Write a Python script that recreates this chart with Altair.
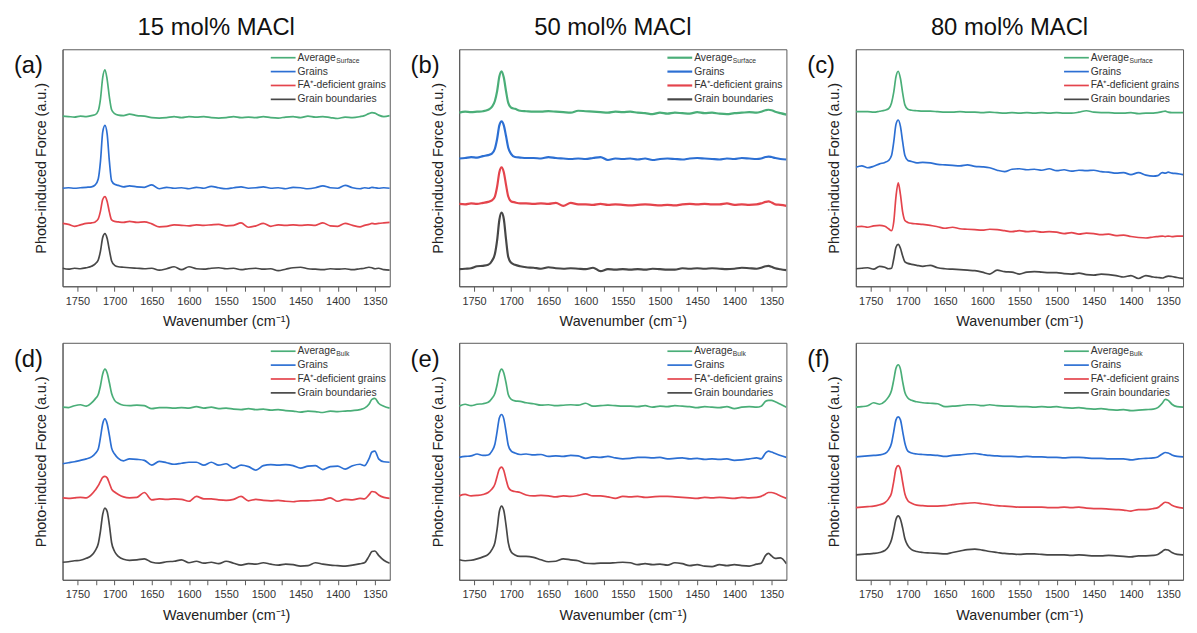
import altair as alt
import pandas as pd

# ---------------- data ----------------
WAVENUMBER = [1770, 1762, 1754, 1746, 1738, 1731,
              1726, 1722, 1719, 1716, 1713, 1710, 1707, 1704, 1700, 1695, 1688,
              1680, 1670, 1660, 1650, 1640, 1630, 1620, 1610, 1600, 1590, 1580, 1570,
              1560, 1550, 1540, 1530, 1520, 1510, 1500, 1490, 1480, 1470, 1460, 1450,
              1440, 1430, 1420, 1410, 1400, 1390, 1380, 1370,
              1364, 1358, 1354, 1350, 1345, 1338, 1330]

# (a) 15 mol% surface
A_AVG = [174.5, 174, 173.5, 174.5, 174, 175,
         176, 180, 192, 214, 222, 212, 194, 181, 177, 175.5, 175,
         176.5, 175, 174.5, 173, 172.5, 173, 174, 173, 174, 173.5, 174, 173, 172.5, 173, 174, 173,
         173.5, 173, 174, 173, 172.5, 173.5, 174, 173, 174.5, 173.5, 174, 173, 172, 173.5, 173, 174,
         175, 177, 178, 177.5, 175.5, 174, 175]
A_GRAINS = [100.5, 101, 100.5, 101, 101.5, 102,
            104, 110, 128, 158, 165, 156, 128, 108, 104.5, 103.5, 102,
            103, 102, 101.5, 104, 100, 101.5, 100.5, 101, 100, 101.5, 100.5, 102.5, 101, 100, 101, 102,
            100.5, 101, 102, 100.5, 101, 100, 101.5, 101, 100, 101, 103, 101, 100.5, 103.5, 101, 100,
            101, 100.5, 101.5, 101, 100.5, 101, 100.5]
A_FA = [64.5, 63.5, 61.5, 63, 64.5, 65,
        66, 69, 77, 89, 92, 87, 76, 68, 66.5, 66, 65.5,
        66.5, 65.5, 66, 64, 61, 61.5, 63, 62.5, 62, 63, 62.5, 63, 63.5, 62, 62.5, 65,
        60.5, 62, 64.5, 61.5, 63, 62.5, 63, 62.5, 63, 62.5, 65, 62, 61.5, 64.5, 62.5, 61,
        62.5, 63.5, 64.5, 64, 64.5, 65, 65.5]
A_GB = [18.5, 17.5, 18.5, 18, 19, 20.5,
        23, 27, 36, 50, 54, 49, 37, 26, 21.5, 20, 19.5,
        19, 18.5, 18, 18.5, 16.5, 18, 20, 17, 20, 18, 17.5, 18.5, 19, 18, 18.5, 17,
        18, 18.5, 17.5, 18, 16, 17.5, 19, 19.5, 18, 17.5, 17, 18, 17.5, 18, 17, 18,
        18.5, 19.5, 19, 18, 18.5, 17, 16.5]

# (b) 50 mol% surface
B_AVG = [178, 179, 178.5, 179, 179.5, 181,
         184, 190, 200, 215, 220.5, 214, 200, 188, 183, 182, 180,
         179.5, 179, 179, 179.5, 179, 178.5, 178, 180, 179.5, 179, 178.5, 178, 179, 178.5, 179, 178,
         177.5, 176.5, 178, 177, 178, 177.5, 177, 178.5, 177.5, 178, 177, 176.5, 177.5, 178, 178.5, 178,
         179, 180.5, 181, 180.5, 179, 177.5, 176]
B_GRAINS = [131, 131.5, 132.5, 132, 133.5, 134.5,
            136, 141, 151, 165, 169, 165, 154, 142, 135.5, 132.5, 132,
            131.5, 131.5, 131, 132.5, 131.5, 131, 130.5, 131, 130.5, 131.5, 132.5, 129.5, 131, 130.5, 131, 130,
            131, 129.5, 130.5, 131, 130.5, 130, 131, 131.5, 131, 130.5, 130, 131, 130.5, 131.5, 131, 130.5,
            131, 132.5, 133, 132.5, 131.5, 130.5, 130]
B_FA = [84.5, 84, 85, 84.5, 85.5, 86.5,
        88, 92, 102, 117, 122, 117, 104, 92, 87, 86, 85,
        85, 84.5, 85, 84.5, 85.5, 82.5, 85.5, 84, 84, 83.5, 84.5, 83.5, 84, 83.5, 83, 83.5,
        84, 83.5, 83, 83.5, 83, 84, 84.5, 84, 84.5, 84, 84, 85, 83.5, 84, 83.5, 84,
        85, 86.5, 87, 86, 84, 83.5, 82.5]
B_GB = [17.5, 18, 18.5, 20.5, 21, 22,
        26, 33, 47, 68, 75.5, 69, 48, 30, 24, 22, 20.5,
        19.5, 19, 18, 19.5, 18.5, 18, 18.5, 18, 17.5, 19, 15.5, 17.5, 17, 17.5, 17, 17.5,
        17, 18, 17.5, 17, 17, 18.5, 18, 18.5, 18, 18.5, 18, 17.5, 18, 19, 18.5, 18,
        19, 20.5, 21, 20, 18.5, 17.5, 16.5]

# (c) 80 mol% surface
C_AVG = [179, 179, 179, 178.5, 179.5, 180.5,
         182, 188, 199, 215, 220.5, 213, 198, 186, 181.5, 180.5, 180,
         179.5, 179.5, 179, 178.5, 178.5, 179, 178.5, 178.5, 178, 178.5, 178, 177.5, 178, 177.5, 178, 177.5,
         178, 177.5, 178, 177.5, 177.5, 178.5, 180, 178.5, 178, 178, 177.5, 177.5, 178, 177, 177.5, 177.5,
         178, 179, 179.5, 178.5, 178, 178, 178]
C_GRAINS = [122, 123.5, 121.5, 123, 125.5, 127,
            129, 134, 148, 166, 170.5, 164, 148, 134, 129, 128, 126.5,
            127, 126.5, 125, 124.5, 124, 123.5, 124.5, 123, 122.5, 121.5, 119, 117.5, 120, 120.5, 119.5, 120,
            119, 120.5, 118.5, 119.5, 118, 119, 118.5, 119, 117.5, 117, 116, 116.5, 114.5, 116.5, 114, 113,
            113.5, 116.5, 116, 117, 116, 115.5, 114.5]
C_FA = [61, 61.5, 60.5, 62, 62.5, 61.5,
        59, 57, 66, 92, 106, 94, 76, 67.5, 65.5, 64.5, 64,
        63.5, 62.5, 61, 59.5, 60.5, 59, 58.5, 58, 57.5, 58.5, 58, 57, 56, 57, 56, 56.5,
        55.5, 56, 55.5, 54, 55, 53.5, 54.5, 54, 53, 53.5, 52, 52.5, 51, 50, 49.5, 50.5,
        51, 51.5, 51, 51.5, 51, 51.5, 51.5]
C_GB = [18, 18.5, 19, 17.5, 20.5, 19.5,
        18, 18.5, 28, 40, 43, 39, 31, 25, 23.5, 22.5, 21.5,
        20.5, 21.5, 19, 18, 17.5, 17, 16.5, 16, 14.5, 12.5, 16.5, 15, 14.5, 12.5, 14.5, 15,
        14.5, 14, 14, 13, 12.5, 13.5, 12, 11.5, 12.5, 12, 11, 9.5, 11, 8, 11, 9.5,
        9, 8.5, 9.5, 10.5, 10, 9, 8]

# (d) 15 mol% bulk
D_AVG = [177, 176.5, 178.5, 179.5, 178, 181.5,
         185.5, 190, 199, 211, 216, 212, 202, 191, 184, 181, 179,
         178.5, 179, 178.5, 175.5, 176.5, 176.5, 176, 176.5, 176, 177.5, 176, 177, 175.5, 176, 175, 174.5,
         175.5, 174.5, 175, 174, 174.5, 173.5, 173, 172, 173, 172.5, 171.5, 173, 172.5, 173, 173.5, 174.5,
         176, 180, 185, 186, 181, 178, 176]
D_GRAINS = [119, 120, 121, 122.5, 124, 126,
            129.5, 134, 146, 160, 165, 160, 148, 135, 129, 124.5, 122,
            124, 123.5, 122.5, 117.5, 121.5, 120, 118.5, 119.5, 120.5, 120.5, 117.5, 120.5, 117.5, 119, 114.5, 117.5,
            116, 112.5, 117, 118, 117.5, 118, 117, 114.5, 116.5, 117, 113, 116, 116.5, 113.5, 117, 118.5,
            117, 124, 131, 132, 124, 121, 120.5]
D_FA = [84, 83.5, 84, 84.5, 84, 87.5,
        92, 96.5, 101, 105, 106, 104.5, 99, 93, 90, 87.5, 85,
        84, 84.5, 89.5, 82, 83, 82.5, 83, 82.5, 80.5, 85.5, 83, 83, 82, 81.5, 82.5, 85.5,
        81, 82.5, 81.5, 81, 81.5, 80.5, 80, 81, 81, 81.5, 82, 84, 80.5, 82.5, 82, 83.5,
        83, 87, 90.5, 90, 87, 84.5, 83.5]
D_GB = [18, 18.5, 19.5, 20, 22, 25,
        30, 37, 50, 67, 73.5, 70, 56, 38, 29, 24, 21,
        20, 20.5, 21.5, 18, 17, 18.5, 19, 20.5, 17.5, 19, 17, 18, 16.5, 19, 17, 15,
        16.5, 16, 17.5, 16, 15, 16, 15.5, 14, 14.5, 17.5, 16, 15, 14.5, 14, 15, 16.5,
        17.5, 24, 29, 29.5, 25, 20, 17]

# (e) 50 mol% bulk
E_AVG = [178, 180, 178.5, 180, 180.5, 182,
         186, 191, 200, 211.5, 216, 212, 202, 190, 185, 183.5, 183,
         181.5, 180.5, 179, 179.5, 178.5, 179, 179.5, 179, 181, 178, 178.5, 179, 178.5, 178, 178, 177.5,
         178.5, 177, 178, 177.5, 178.5, 178, 177.5, 176.5, 177.5, 177, 176.5, 177.5, 175.5, 177, 177.5, 177,
         178, 183, 184, 184, 182.5, 180, 177]
E_GRAINS = [125.5, 126.5, 127, 129, 127.5, 128,
            132, 139, 152, 166, 169.5, 165, 152, 138, 132, 130, 128.5,
            129, 128, 128.5, 126.5, 127, 126.5, 127.5, 127, 124.5, 126, 125.5, 126.5, 125, 124, 124.5, 125.5,
            125.5, 125, 125.5, 124, 124.5, 125, 124, 124.5, 123.5, 124, 123.5, 124, 122.5, 123, 124, 125,
            124, 130, 132, 131, 129.5, 127.5, 125.5]
E_FA = [86, 87.5, 86, 86.5, 87.5, 89.5,
        93, 98, 106, 113.5, 115.5, 112, 103, 95, 91.5, 90.5, 89.5,
        87, 86, 86.5, 86, 85, 86, 85.5, 86.5, 88, 86, 86, 85, 83.5, 85.5, 85, 85.5,
        84.5, 85, 85.5, 85.5, 85, 84.5, 84, 83.5, 84.5, 84, 84.5, 84, 83.5, 84.5, 84, 84.5,
        85.5, 88, 89.5, 89.5, 88.5, 86, 83.5]
E_GB = [20.5, 19.5, 20, 21.5, 23.5, 26,
        31, 38, 52, 70, 75.5, 71, 56, 38, 28.5, 25.5, 24,
        24, 23, 20.5, 18.5, 19, 21.5, 20.5, 19.5, 17, 16.5, 17, 17, 17.5, 18, 17.5, 15.5,
        16.5, 15.5, 16, 15, 17.5, 16.5, 14.5, 15.5, 14, 13.5, 15.5, 14.5, 15.5, 14.5, 14, 16,
        17, 25, 27, 24.5, 22, 22.5, 16.5]

# (f) 80 mol% bulk
F_AVG = [177, 177.5, 178.5, 181.5, 180, 183,
         187.5, 194, 205, 217, 220.5, 216, 203, 192, 186.5, 184, 182.5,
         181.5, 181, 180.5, 177.5, 178, 178.5, 179.5, 179.5, 178.5, 179.5, 178.5, 178, 178, 177.5, 177.5, 177,
         177.5, 177, 177.5, 176.5, 176, 176.5, 175.5, 175, 175.5, 174.5, 174, 174.5, 173.5, 174, 174.5, 175,
         176.5, 181, 185, 184, 180, 177.5, 177]
F_GRAINS = [126, 126.5, 127, 127.5, 128, 129.5,
            133, 140, 152, 164, 167, 164, 152, 140, 132, 130, 129,
            128.5, 128, 127.5, 126.5, 127.5, 128, 129, 129.5, 128.5, 127.5, 127, 126.5, 126.5, 126, 126.5, 126,
            126, 125.5, 125.5, 125, 125.5, 125.5, 125, 124.5, 124.5, 124, 124, 124, 123, 124, 124.5, 125,
            126, 129, 130.5, 130, 128, 126.5, 126]
F_FA = [74, 74.5, 75, 75.5, 77, 79,
        83, 89, 101, 114, 117, 113, 100, 88, 81, 78.5, 76.5,
        76, 75.5, 75.5, 76, 77, 78, 78.5, 79, 78, 77, 76, 75.5, 75, 74.5, 74.5, 74.5,
        74.5, 74, 74, 74.5, 74, 74.5, 73.5, 73, 73, 72.5, 72, 71.5, 70.5, 72, 72, 73,
        74, 77.5, 79.5, 79, 76.5, 74.5, 73.5]
F_GB = [25.5, 26, 26.5, 27, 28, 30,
        34, 41, 51, 62, 65.5, 62, 53, 42, 35, 31, 29,
        28, 27.5, 27, 26.5, 28, 29.5, 31, 31.5, 30.5, 29, 28, 27, 26.5, 26, 26.5, 26.5,
        26, 25.5, 25.5, 25.5, 25, 25.5, 25, 24.5, 24.5, 25, 24.5, 24, 23.5, 24.5, 24.5, 25,
        26, 29, 31, 30.5, 28, 26, 25.5]

COLUMN_TITLES = ["15 mol% MACl", "50 mol% MACl", "80 mol% MACl"]
PANEL_LETTERS = ["(a)", "(b)", "(c)", "(d)", "(e)", "(f)"]
SERIES_KEYS = ["avg", "grains", "fa", "gb"]
LEGEND_LABELS = ["Average", "Grains", "FA\u207a-deficient grains", "Grain boundaries"]
AVG_SUBSCRIPTS = ["Surface", "Bulk"]
COLORS = ["#4aae78", "#2c6fd3", "#e4444c", "#474747"]
X_TICKS = [1750, 1725, 1700, 1675, 1650, 1625, 1600, 1575, 1550, 1525, 1500,
           1475, 1450, 1425, 1400, 1375, 1350]

PANELS = [
    [A_AVG, A_GRAINS, A_FA, A_GB],
    [B_AVG, B_GRAINS, B_FA, B_GB],
    [C_AVG, C_GRAINS, C_FA, C_GB],
    [D_AVG, D_GRAINS, D_FA, D_GB],
    [E_AVG, E_GRAINS, E_FA, E_GB],
    [F_AVG, F_GRAINS, F_FA, F_GB],
]

for p in PANELS:
    for s in p:
        assert len(s) == len(WAVENUMBER), len(s)

FONT = "Liberation Sans"
FRAME = "#5a5a5a"
W, H = 330, 239


def one_row():
    return pd.DataFrame({"k": [0]})


def make_panel(i):
    series = PANELS[i]
    rows = []
    for key, vals in zip(SERIES_KEYS, series):
        for wn, v in zip(WAVENUMBER, vals):
            rows.append({"wn": wn, "pif": v, "series": key})
    df = pd.DataFrame(rows)
    lw = 2.2 if i == 1 else 1.7

    x = alt.X("wn:Q",
              scale=alt.Scale(domain=[1330, 1770], reverse=True, nice=False, zero=False),
              axis=alt.Axis(values=X_TICKS, format="d",
                            labelExpr="datum.value % 50 === 0 ? datum.label : ''",
                            labelOverlap=False, labelFlush=False, grid=False,
                            tickSize=5, labelPadding=4, titlePadding=9,
                            title="Wavenumber (cm\u207b\u00b9)"))
    y = alt.Y("pif:Q",
              scale=alt.Scale(domain=[0, 243], nice=False, zero=False),
              axis=alt.Axis(ticks=False, labels=False, grid=False, titlePadding=14,
                            title="Photo-induced Force (a.u.)"))
    lines = alt.Chart(df).mark_line(interpolate="monotone", strokeWidth=lw, clip=True).encode(
        x=x, y=y,
        color=alt.Color("series:N", scale=alt.Scale(domain=SERIES_KEYS, range=COLORS), legend=None),
    )
    layers = [lines]
    layers.append(
        alt.Chart(one_row()).mark_text(align="left", baseline="middle", fontSize=24,
                                       font=FONT, color="#111").encode(
            x=alt.value(-49), y=alt.value(17), text=alt.value(PANEL_LETTERS[i]))
    )
    lx0, lx1, tx = 210, 235, 237
    for j, (lab, col) in enumerate(zip(LEGEND_LABELS, COLORS)):
        ly = 8.5 + 14 * j
        layers.append(
            alt.Chart(one_row()).mark_rule(color=col, strokeWidth=lw).encode(
                x=alt.value(lx0), x2=alt.value(lx1), y=alt.value(ly))
        )
        layers.append(
            alt.Chart(one_row()).mark_text(align="left", baseline="middle", fontSize=10.4,
                                           font=FONT, color="#333").encode(
                x=alt.value(tx), y=alt.value(ly), text=alt.value(lab))
        )
    sub = AVG_SUBSCRIPTS[0] if i < 3 else AVG_SUBSCRIPTS[1]
    layers.append(
        alt.Chart(one_row()).mark_text(align="left", baseline="middle", fontSize=6.8,
                                       font=FONT, color="#333").encode(
            x=alt.value(tx + 39), y=alt.value(8.5 + 3.2), text=alt.value(sub))
    )
    ch = alt.layer(*layers)
    if i < 3:
        ch = ch.properties(width=W, height=H,
                           title=alt.TitleParams(COLUMN_TITLES[i], frame="group", anchor="middle",
                                                 dx=-10, offset=9))
    else:
        ch = ch.properties(width=W, height=H)
    return ch


charts = [make_panel(i) for i in range(6)]
chart = alt.concat(*charts, columns=3, spacing={"row": 57, "column": 70}, bounds="flush")
chart = chart.configure_view(stroke=FRAME, strokeWidth=1).configure_axis(
    domainColor=FRAME, tickColor=FRAME, labelColor="#333", titleColor="#222",
    labelFont=FONT, titleFont=FONT, labelFontSize=11, titleFontSize=14.5,
    titleFontWeight="normal",
).configure_title(font=FONT, fontSize=24, fontWeight="normal", color="#111")

chart.save("out.html", embed_options={"renderer": "svg", "actions": False})
